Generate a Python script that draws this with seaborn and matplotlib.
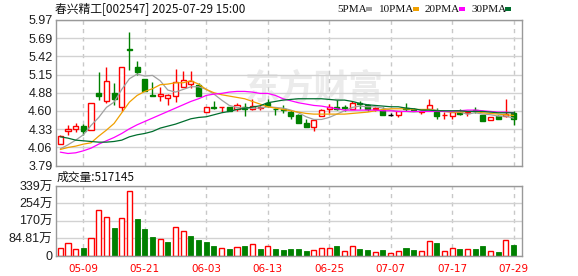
import matplotlib
matplotlib.use("Agg")
import matplotlib.pyplot as plt
from matplotlib.patches import Rectangle
import seaborn as sns
import pandas as pd
import numpy as np

# ---------------- data ----------------
opens = [4.11, 4.31, 4.33, 4.38, 4.32, 4.87, 4.76, 4.88, 4.67, 5.53,
         5.27, 5.08, 4.84, 4.83, 4.80, 4.83, 4.96, 5.01, 5.00, 4.59,
         4.67, 4.66, 4.66, 4.63, 4.67, 4.63, 4.65, 4.72, 4.64, 4.63,
         4.59, 4.55, 4.42, 4.36, 4.53, 4.64, 4.67, 4.66, 4.64, 4.72,
         4.69, 4.64, 4.62, 4.55, 4.55, 4.65, 4.63, 4.59, 4.64, 4.59,
         4.54, 4.53, 4.59, 4.58, 4.62, 4.54, 4.47, 4.53, 4.53, 4.58]
highs = [4.24, 4.39, 4.42, 4.41, 4.73, 5.19, 5.27, 5.02, 5.26, 5.79,
         5.35, 5.08, 5.04, 4.96, 4.86, 5.23, 5.20, 5.20, 5.02, 4.67,
         4.75, 4.67, 4.67, 4.73, 4.72, 4.78, 4.68, 4.78, 4.65, 4.70,
         4.62, 4.56, 4.48, 4.47, 4.63, 4.71, 4.77, 4.70, 4.75, 4.75,
         4.71, 4.66, 4.67, 4.58, 4.61, 4.73, 4.65, 4.61, 4.79, 4.65,
         4.59, 4.61, 4.64, 4.61, 4.67, 4.54, 4.52, 4.54, 4.79, 4.60]
lows = [4.11, 4.24, 4.29, 4.25, 4.32, 4.77, 4.73, 4.70, 4.60, 5.22,
        5.15, 4.91, 4.83, 4.76, 4.70, 4.74, 4.96, 4.95, 4.83, 4.59,
        4.64, 4.59, 4.60, 4.61, 4.53, 4.62, 4.62, 4.66, 4.54, 4.58,
        4.49, 4.43, 4.36, 4.31, 4.53, 4.58, 4.62, 4.61, 4.63, 4.63,
        4.61, 4.60, 4.54, 4.53, 4.52, 4.61, 4.61, 4.56, 4.63, 4.49,
        4.49, 4.49, 4.54, 4.53, 4.57, 4.46, 4.47, 4.48, 4.52, 4.40]
closes = [4.23, 4.33, 4.38, 4.30, 4.73, 4.83, 5.06, 4.78, 5.26, 5.52,
          5.19, 4.91, 4.83, 4.86, 4.85, 5.04, 5.07, 5.05, 4.83, 4.67,
          4.65, 4.67, 4.61, 4.69, 4.64, 4.68, 4.66, 4.68, 4.63, 4.62,
          4.53, 4.43, 4.37, 4.47, 4.62, 4.66, 4.64, 4.65, 4.73, 4.71,
          4.63, 4.65, 4.54, 4.55, 4.60, 4.64, 4.62, 4.60, 4.70, 4.53,
          4.55, 4.59, 4.56, 4.59, 4.61, 4.46, 4.52, 4.49, 4.56, 4.49]

ma5 = [4.04, 4.10, 4.17, 4.25, 4.39, 4.51, 4.66, 4.74, 4.93, 5.09,
       5.16, 5.13, 5.14, 5.06, 4.92, 4.89, 4.93, 4.97, 4.97, 4.93,
       4.86, 4.77, 4.69, 4.66, 4.65, 4.65, 4.65, 4.67, 4.66, 4.65,
       4.62, 4.58, 4.52, 4.48, 4.48, 4.51, 4.56, 4.61, 4.66, 4.68,
       4.67, 4.67, 4.65, 4.62, 4.60, 4.60, 4.59, 4.60, 4.63, 4.62,
       4.60, 4.59, 4.59, 4.56, 4.58, 4.56, 4.55, 4.53, 4.53, 4.50]
ma10 = [4.03, 4.06, 4.08, 4.11, 4.13, 4.23, 4.32, 4.42, 4.58, 4.74,
        4.84, 4.90, 4.94, 5.00, 5.01, 5.03, 5.03, 5.06, 5.01, 4.93,
        4.88, 4.85, 4.83, 4.81, 4.79, 4.75, 4.71, 4.67, 4.65, 4.63,
        4.61, 4.59, 4.57, 4.56, 4.56, 4.56, 4.56, 4.56, 4.57, 4.58,
        4.59, 4.61, 4.63, 4.64, 4.64, 4.64, 4.63, 4.63, 4.63, 4.61,
        4.60, 4.59, 4.59, 4.60, 4.60, 4.58, 4.57, 4.56, 4.55, 4.54]
ma20 = [3.99, 3.97, 3.98, 4.01, 4.05, 4.11, 4.16, 4.21, 4.27, 4.34,
        4.40, 4.45, 4.50, 4.55, 4.60, 4.65, 4.70, 4.75, 4.79, 4.84,
        4.86, 4.87, 4.89, 4.90, 4.90, 4.89, 4.87, 4.87, 4.84, 4.79,
        4.76, 4.73, 4.71, 4.69, 4.68, 4.66, 4.64, 4.62, 4.62, 4.62,
        4.62, 4.62, 4.61, 4.61, 4.60, 4.60, 4.60, 4.60, 4.60, 4.60,
        4.60, 4.60, 4.61, 4.62, 4.62, 4.61, 4.60, 4.59, 4.59, 4.58]
ma30 = [4.22, 4.20, 4.17, 4.16, 4.15, 4.14, 4.14, 4.15, 4.17, 4.22,
        4.25, 4.27, 4.30, 4.35, 4.38, 4.41, 4.45, 4.49, 4.51, 4.52,
        4.55, 4.58, 4.60, 4.63, 4.645, 4.665, 4.685, 4.73, 4.75, 4.77,
        4.78, 4.79, 4.79, 4.79, 4.79, 4.78, 4.77, 4.77, 4.75, 4.72,
        4.70, 4.69, 4.68, 4.67, 4.67, 4.65, 4.64, 4.62, 4.62, 4.61,
        4.61, 4.61, 4.61, 4.60, 4.60, 4.60, 4.59, 4.58, 4.58, 4.58]

volumes_wan = [37.7, 62.3, 32.8, 34.4, 86.9, 224.5, 190, 132.7, 185, 313,
               177, 128, 88.5, 82, 64, 141, 121, 93, 74, 64,
               44, 38, 34, 43, 44, 57, 34, 48, 29.5, 28,
               33, 29.5, 20, 24.6, 38, 38, 44, 23, 48, 34,
               24.6, 18, 24.6, 13, 23, 39, 24.6, 23, 69, 59,
               23, 38, 29.5, 33, 34, 44, 23, 14.7, 74, 51.7]
volume_up = [1, 1, 1, 0, 1, 1, 1, 0, 1, 1, 0, 0, 0, 1, 0, 1, 1, 0, 0, 0,
             0, 1, 0, 1, 0, 1, 0, 1, 0, 0, 0, 0, 0, 1, 1, 1, 0, 1, 1, 0,
             0, 1, 0, 1, 1, 0, 0, 1, 1, 0, 1, 1, 0, 1, 0, 0, 1, 0, 1, 0]

date_tick_pos = [3, 11, 19, 27, 35, 43, 51, 59]
date_tick_labels = ["05-09", "05-21", "06-03", "06-13", "06-25", "07-07", "07-17", "07-29"]
price_ticks = [3.79, 4.0625, 4.335, 4.6075, 4.88, 5.1525, 5.425, 5.6975, 5.97]
price_tick_labels = ["3.79", "4.06", "4.33", "4.60", "4.88", "5.15", "5.42", "5.69", "5.97"]
vol_ticks = [0, 84.81, 169.62, 254.43, 339.24]
vol_tick_labels = ["0", "84.81万", "170万", "254万", "339万"]
ma_names = ["5PMA", "10PMA", "20PMA", "30PMA"]
ma_colors = ["#a0a0a0", "#f0a000", "#ff00ff", "#006e2e"]
title_text = "春兴精工[002547] 2025-07-29 15:00"
vol_title = "成交量:517145"

# ---------------- style ----------------
sns.set_theme(style="white")
plt.rcParams["font.family"] = ["Liberation Sans", "Noto Sans CJK SC", "DejaVu Sans"]

RED = "#ff0000"
GREEN = "#008000"
GRID = "#d2d2d2"
SPINE = "#999999"

W, H = 578, 276
fig = plt.figure(figsize=(W / 100, H / 100), dpi=100)
fig.patch.set_facecolor("white")
L, R = 56, 522
ax = fig.add_axes([L / W, 1 - 165.5 / H, (R - L) / W, 145.5 / H])
axv = fig.add_axes([L / W, 1 - 255.5 / H, (R - L) / W, 69.5 / H])

n = len(closes)
x = np.arange(n)
o = np.array(opens); c = np.array(closes); hi = np.array(highs); lo = np.array(lows)
bw = 0.66

for a in (ax, axv):
    a.set_xlim(-0.56, 60.1)
    a.set_facecolor("white")
    for s in a.spines.values():
        s.set_color(SPINE)
        s.set_linewidth(1)
    a.set_xticks(date_tick_pos)
    a.grid(axis="x", color="#c8c8c8", linestyle=(0, (3, 3)), linewidth=1)
    a.grid(axis="y", color=GRID, linestyle="-", linewidth=1)
    a.set_axisbelow(True)
    a.tick_params(length=0, pad=2.5, labelsize=9, colors="#1e1e1e")

# watermark
ax.text(0.555, 0.53, "东方财富", transform=ax.transAxes, ha="center", va="center",
        fontsize=25, color="#ebebeb", family=["Noto Sans CJK SC"], fontweight="bold", zorder=0.5)

# candles
for i in range(n):
    if c[i] > o[i]:
        col, face = RED, "white"
    elif c[i] < o[i]:
        col, face = GREEN, GREEN
    else:
        col, face = "black", "black"
    ax.vlines(i, lo[i], hi[i], color=col, linewidth=1, zorder=2)
    bottom = min(o[i], c[i])
    height = abs(c[i] - o[i])
    ax.add_patch(Rectangle((i - bw / 2, bottom), bw, height, facecolor=face,
                           edgecolor=col, linewidth=1, zorder=2.5))

# moving averages via seaborn
ma_df = pd.DataFrame({
    "idx": np.tile(x, 4),
    "value": np.concatenate([ma5, ma10, ma20, ma30]),
    "ma": np.repeat(ma_names, n),
})
sns.lineplot(data=ma_df, x="idx", y="value", hue="ma", palette=dict(zip(ma_names, ma_colors)),
             ax=ax, legend=False, linewidth=0.9, zorder=3)
ax.set_xlabel(""); ax.set_ylabel("")
ax.set_ylim(3.79, 5.97)
ax.set_yticks(price_ticks)
ax.set_yticklabels(price_tick_labels)
ax.tick_params(labelbottom=False)

# volume bars
vols = np.array(volumes_wan)
for i in range(n):
    if volume_up[i]:
        axv.add_patch(Rectangle((i - bw / 2, 0), bw, vols[i], facecolor="white",
                                edgecolor=RED, linewidth=1, zorder=2))
    else:
        axv.add_patch(Rectangle((i - bw / 2, 0), bw, vols[i], facecolor=GREEN,
                                edgecolor=GREEN, linewidth=0.6, zorder=2))
axv.set_ylim(0, 339.24)
axv.set_yticks(vol_ticks)
axv.set_yticklabels(vol_tick_labels)
axv.set_xticklabels(date_tick_labels)
axv.tick_params(axis="x", colors=RED, pad=6, labelsize=7.5)
for t in axv.get_xticklabels():
    t.set_family(["DejaVu Sans"])
    t.set_color(RED)

# titles and legend
fig.text(55 / W, 1 - 9.5 / H, title_text, fontsize=8.5, va="center", ha="left",
         color="#111111", family=["Noto Sans CJK SC", "DejaVu Sans"])
fig.text(57 / W, 1 - 177 / H, vol_title, fontsize=8.5, va="center", ha="left",
         color="#111111", family=["Noto Sans CJK SC", "DejaVu Sans"])

leg_text_x = [337, 379, 425, 471]
leg_sq_x = [366, 413, 459, 505]
for name, col, tx, sx in zip(ma_names, ma_colors, leg_text_x, leg_sq_x):
    fig.text(tx / W, 1 - 9 / H, name, fontsize=8, va="center", ha="left",
             color="#111111", family=["Liberation Serif"])
    fig.add_artist(Rectangle((sx / W, 1 - 11 / H), 6 / W, 4 / H, facecolor=col,
                             edgecolor="none", transform=fig.transFigure))

fig.savefig("out.png", dpi=100, facecolor="white")
